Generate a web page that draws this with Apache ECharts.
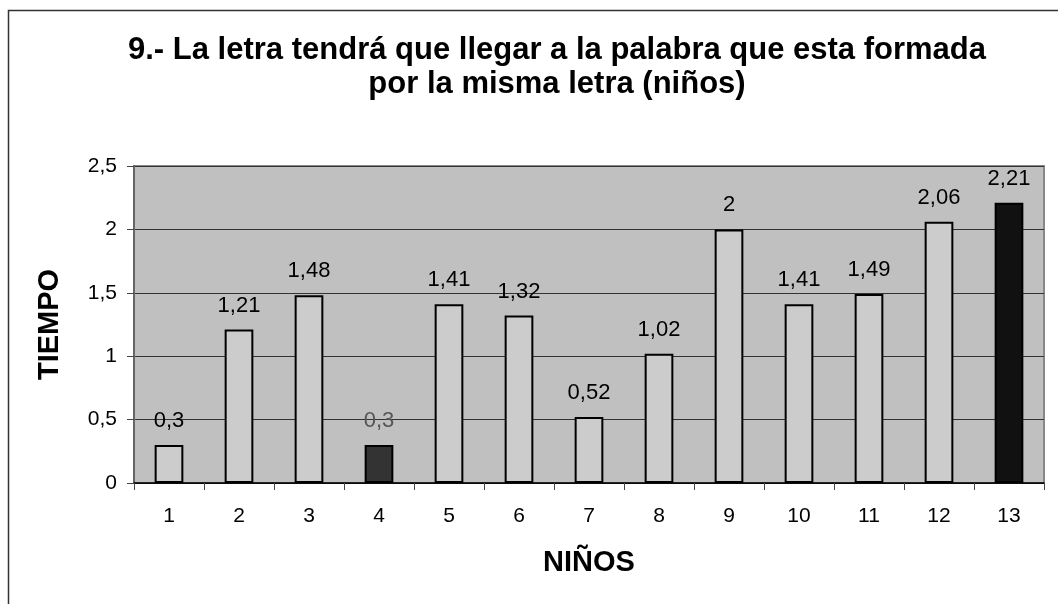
<!DOCTYPE html>
<html>
<head>
<meta charset="utf-8">
<script src="https://cdn.jsdelivr.net/npm/echarts@6/dist/echarts.min.js"></script>
<style>
  html, body { margin: 0; padding: 0; background: #fff; }
  #chart { width: 1058px; height: 604px; }
</style>
</head>
<body>
<div id="chart"></div>
<script>
const ninos = ['1', '2', '3', '4', '5', '6', '7', '8', '9', '10', '11', '12', '13'];
const tiempo = [0.3, 1.21, 1.48, 0.3, 1.41, 1.32, 0.52, 1.02, 2, 1.41, 1.49, 2.06, 2.21];
const barColors = ['#CCCCCC', '#CCCCCC', '#CCCCCC', '#333333', '#CCCCCC', '#CCCCCC', '#CCCCCC',
  '#CCCCCC', '#CCCCCC', '#CCCCCC', '#CCCCCC', '#CCCCCC', '#111111'];
const labelColors = ['#000', '#000', '#000', '#555', '#000', '#000', '#000',
  '#000', '#000', '#000', '#000', '#000', '#000'];

const comma = v => String(v).replace('.', ',');
const font = '"Liberation Sans", Arial, sans-serif';

const myChart = echarts.init(document.getElementById('chart'));
const option = {
  animation: false,
  textStyle: { fontFamily: font },
  title: {
    text: '9.- La letra tendrá que llegar a la palabra que esta formada\npor la misma letra (niños)',
    left: 552,
    top: 28,
    textAlign: 'center',
    textStyle: { fontFamily: font, fontSize: 31, fontWeight: 'bold', color: '#000', lineHeight: 34 }
  },
  graphic: [{
    type: 'rect',
    shape: { x: 8.5, y: 10.5, width: 1200, height: 800 },
    style: { fill: 'none', stroke: '#333', lineWidth: 1.5 },
    silent: true
  }],
  grid: {
    left: 134, right: 14, top: 166, bottom: 121,
    show: true,
    backgroundColor: '#C0C0C0',
    borderColor: '#888',
    borderWidth: 2
  },
  xAxis: {
    type: 'category',
    data: ninos,
    name: 'NIÑOS',
    nameLocation: 'middle',
    nameGap: 65,
    nameTextStyle: { fontFamily: font, fontSize: 29, fontWeight: 'bold', color: '#000' },
    axisLine: { lineStyle: { color: '#000', width: 1.5 } },
    axisTick: { show: true, length: 7, lineStyle: { color: '#444' } },
    axisLabel: { fontFamily: font, fontSize: 21, color: '#000', margin: 23 }
  },
  yAxis: {
    type: 'value',
    min: 0, max: 2.5, interval: 0.5,
    name: 'TIEMPO',
    nameLocation: 'middle',
    nameGap: 70,
    nameTextStyle: { fontFamily: font, fontSize: 29, fontWeight: 'bold', color: '#000' },
    axisLine: { show: true, lineStyle: { color: '#666', width: 2 } },
    axisTick: { show: true, length: 7, lineStyle: { color: '#444' } },
    axisLabel: { fontFamily: font, fontSize: 21, color: '#000', margin: 17, formatter: comma },
    splitLine: { lineStyle: { color: '#333', width: 1 } }
  },
  series: [{
    type: 'bar',
    barWidth: '41%',
    data: tiempo.map((v, i) => ({
      value: v,
      itemStyle: { color: barColors[i] },
      label: { color: labelColors[i] }
    })),
    itemStyle: { borderColor: '#000', borderWidth: 2 },
    label: {
      show: true,
      position: 'top',
      distance: 13,
      fontFamily: font,
      fontSize: 22,
      formatter: p => comma(p.value)
    }
  }]
};
option && myChart.setOption(option);
</script>
</body>
</html>
